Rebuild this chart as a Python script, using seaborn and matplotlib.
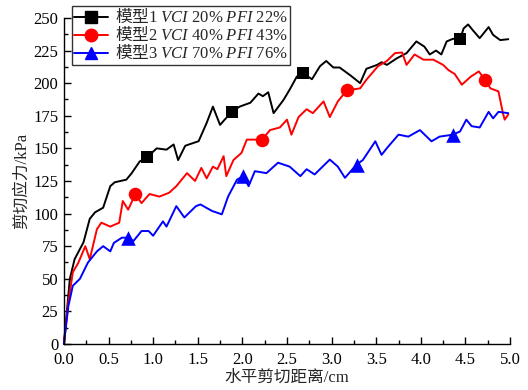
import matplotlib
matplotlib.use("Agg")
import matplotlib.pyplot as plt
from matplotlib.lines import Line2D
from matplotlib.ticker import MultipleLocator, FormatStrFormatter
from matplotlib.font_manager import FontProperties
import seaborn as sns
import pandas as pd

# ---- data ----
x1 = [0.0, 0.067, 0.12, 0.22, 0.29, 0.35, 0.44, 0.52, 0.57, 0.70, 0.76, 0.85, 0.93, 1.04, 1.15, 1.23,
      1.28, 1.36, 1.51, 1.60, 1.67, 1.75, 1.88, 1.97, 2.09, 2.18, 2.23, 2.29, 2.35, 2.46, 2.53, 2.61,
      2.68, 2.78, 2.87, 2.94, 3.02, 3.09, 3.21, 3.32, 3.39, 3.51, 3.56, 3.62, 3.73, 3.84, 3.95, 4.04,
      4.10, 4.17, 4.23, 4.29, 4.36, 4.44, 4.48, 4.53, 4.59, 4.66, 4.76, 4.81, 4.89, 4.98]
y1 = [0, 50, 65, 78, 96, 101, 104.5, 121, 124, 126, 131, 140, 143, 150, 149, 153,
      141, 152, 155.5, 169.5, 182, 168, 178, 182, 185, 192, 190, 193, 177, 187, 195, 205,
      207.6, 203, 213, 217, 212, 212, 206, 200, 211, 214, 216, 214, 219, 223, 232, 228,
      222, 225, 222, 232, 234, 233.7, 242, 245, 240, 234.5, 243, 237, 233, 233.7]

x2 = [0.0, 0.05, 0.10, 0.16, 0.24, 0.29, 0.37, 0.42, 0.52, 0.62, 0.66, 0.72, 0.80, 0.87, 0.96, 1.07,
      1.18, 1.26, 1.38, 1.47, 1.54, 1.60, 1.67, 1.72, 1.79, 1.82, 1.90, 1.99, 2.05, 2.22, 2.31, 2.42,
      2.50, 2.55, 2.63, 2.72, 2.79, 2.91, 2.98, 3.07, 3.17, 3.32, 3.39, 3.52, 3.62, 3.71, 3.79, 3.84,
      3.93, 4.03, 4.14, 4.25, 4.31, 4.38, 4.46, 4.56, 4.65, 4.72, 4.78, 4.87, 4.92, 4.94, 4.98]
y2 = [0, 32, 55, 62, 75, 65, 88, 93, 90, 93, 109.6, 103, 114.7, 108, 115, 113,
      116, 121, 131, 125, 135, 127, 136, 134, 144, 128.7, 141, 146.5, 156.7, 156.7, 164, 166,
      172, 160.5, 174, 180, 177, 186, 174, 186, 194.5, 196, 202.6, 213, 217, 223, 223.5, 214,
      222, 218, 218, 214, 210, 207, 198.8, 205, 209, 202.6, 196, 193.7, 177, 172, 176]

x3 = [0.0, 0.05, 0.10, 0.18, 0.27, 0.37, 0.44, 0.52, 0.56, 0.65, 0.72, 0.78, 0.87, 0.95, 1.00, 1.11,
      1.15, 1.26, 1.35, 1.48, 1.53, 1.66, 1.77, 1.84, 1.94, 2.01, 2.07, 2.14, 2.27, 2.40, 2.53, 2.65,
      2.72, 2.81, 2.98, 3.07, 3.15, 3.28, 3.35, 3.49, 3.56, 3.63, 3.75, 3.86, 3.99, 4.12, 4.21, 4.36,
      4.44, 4.51, 4.57, 4.66, 4.76, 4.81, 4.87, 4.98]
y3 = [0, 29, 44.6, 50, 62.5, 71, 75, 71, 77.5, 81.5, 81.5, 79, 86.6, 86.6, 83, 94,
      90, 105.7, 97, 105.7, 107, 102, 99.4, 113, 126, 128.7, 121, 132.5, 131, 139, 136, 128.7,
      134, 130, 141.4, 136, 127.4, 137.6, 141, 155.4, 145, 151, 160.5, 159, 164, 155.4, 159, 160.5,
      163, 172, 167, 166, 178, 173, 178, 177]

m1x = [0.93, 1.88, 2.68, 4.44]
m1y = [143, 178, 207.6, 233.7]
m2x = [0.80, 2.22, 3.17, 4.72]
m2y = [114.7, 156.7, 194.5, 202.6]
m3x = [0.72, 2.01, 3.28, 4.36]
m3y = [81.5, 128.7, 137.6, 160.5]

labels = ["模型$\\mathrm{1}\\ \\mathit{VCI}\\ \\mathrm{20\\%}\\ \\mathit{PFI}\\ \\mathrm{22\\%}$",
          "模型$\\mathrm{2}\\ \\mathit{VCI}\\ \\mathrm{40\\%}\\ \\mathit{PFI}\\ \\mathrm{43\\%}$",
          "模型$\\mathrm{3}\\ \\mathit{VCI}\\ \\mathrm{70\\%}\\ \\mathit{PFI}\\ \\mathrm{76\\%}$"]
colors = ["#000000", "#ff0000", "#0000ff"]
markers = ["s", "o", "^"]

sns.set_style("ticks")
plt.rcParams["font.family"] = ["Liberation Serif", "Noto Sans CJK SC", "DejaVu Sans"]
plt.rcParams["mathtext.fontset"] = "custom"
plt.rcParams["mathtext.rm"] = "Liberation Serif"
plt.rcParams["mathtext.it"] = "Liberation Serif:italic"
plt.rcParams["axes.unicode_minus"] = False

fig = plt.figure(figsize=(5.28, 3.90), dpi=100)
ax = fig.add_axes([0.121, 0.118, 0.845, 0.836])

series = [(x1, y1, m1x, m1y), (x2, y2, m2x, m2y), (x3, y3, m3x, m3y)]
handles = []
sizes = [85, 95, 110]
for (xs, ys, mx, my), c, mk, lab, sz in zip(series, colors, markers, labels, sizes):
    df = pd.DataFrame({"x": xs, "y": ys})
    sns.lineplot(data=df, x="x", y="y", ax=ax, color=c, lw=1.4, sort=False,
                 estimator=None, clip_on=False)
    dm = pd.DataFrame({"x": mx, "y": my})
    sns.scatterplot(data=dm, x="x", y="y", ax=ax, color=c, marker=mk, s=sz,
                    edgecolor=c, linewidth=0, zorder=5)
    handles.append(Line2D([], [], color=c, lw=1.4, marker=mk, markersize=9))

ax.set_xlim(0, 5.0)
ax.set_ylim(0, 250)
ax.xaxis.set_major_locator(MultipleLocator(0.5))
ax.xaxis.set_minor_locator(MultipleLocator(0.25))
ax.yaxis.set_major_locator(MultipleLocator(25))
ax.yaxis.set_minor_locator(MultipleLocator(12.5))
ax.tick_params(which="both", direction="in", colors="black", labelsize=12, width=1)
ax.tick_params(which="major", length=5)
ax.tick_params(which="minor", length=3)
ax.tick_params(axis="x", pad=6)
ax.tick_params(axis="y", pad=4)
ax.xaxis.set_major_formatter(FormatStrFormatter("%.1f"))
for s in ["top", "right"]:
    ax.spines[s].set_visible(False)
for s in ["left", "bottom"]:
    ax.spines[s].set_color("black")
    ax.spines[s].set_linewidth(1)

ax.set_xlabel("水平剪切距离/cm", fontsize=12, labelpad=1)
ax.set_ylabel("剪切应力/kPa", fontsize=12, labelpad=2)

legprop = FontProperties(family=["Noto Sans CJK SC"], size=12)
leg = ax.legend(handles, labels, loc="upper left", bbox_to_anchor=(0.136, 0.985),
                bbox_transform=fig.transFigure, frameon=True, fancybox=False,
                edgecolor="black", prop=legprop, handlelength=2.0, borderpad=0.15,
                labelspacing=0.0, handletextpad=0.45, borderaxespad=0)
leg.get_frame().set_linewidth(1)

fig.savefig("out.png", dpi=100)
